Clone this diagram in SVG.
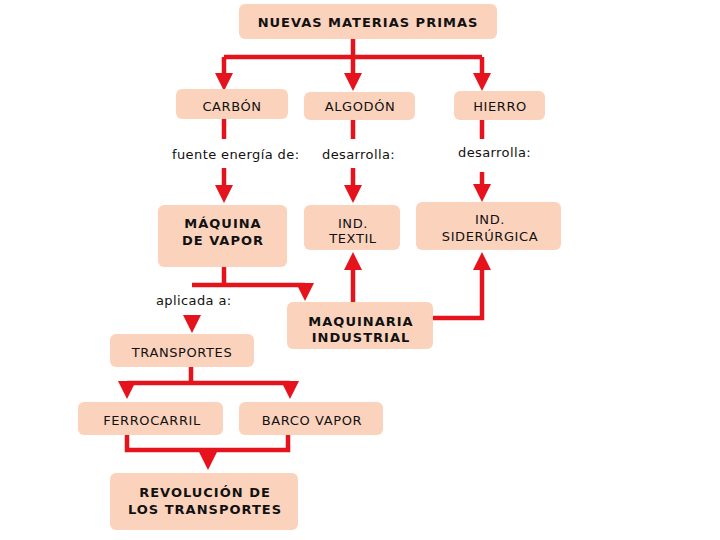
<svg xmlns="http://www.w3.org/2000/svg" xmlns:xlink="http://www.w3.org/1999/xlink" width="720" height="540" viewBox="0 0 720 540">
<style>
.box{fill:#FBD3BD}
.t{font-family:"DejaVu Sans","Verdana",sans-serif;font-size:13px;fill:#111;text-anchor:middle;letter-spacing:0.6px}
.b{font-family:"DejaVu Sans","Verdana",sans-serif;font-size:13px;font-weight:bold;fill:#111;text-anchor:middle;letter-spacing:1px}
.l{font-family:"DejaVu Sans","Verdana",sans-serif;font-size:13px;fill:#111;letter-spacing:0.4px}
.c{fill:none;stroke:#E5141C;stroke-width:4.5}
.ah{fill:#E5141C}
</style>
<defs>
<path id="down" d="M-9,0 L9,0 L0,18 Z"/>
<path id="up" d="M-9,0 L9,0 L0,-18 Z"/>
</defs>
<rect width="720" height="540" fill="#fff"/>
<g id="connectors">
<path class="c" d="M353,39 V57 M224,57 H482 M224,57 V74 M353,57 V74 M482,57 V74"/>
<path class="c" d="M224,119 V139 M353,120 V139 M482,120 V139"/>
<path class="c" d="M224,168 V186 M353,168 V186 M482,172 V186"/>
<path class="c" d="M224,267 V285 M192,285 H305"/>
<path class="c" d="M353,302 V270"/>
<path class="c" d="M433,318 H482 V270"/>
<path class="c" d="M191,367 V383 M127,383 H290"/>
<path class="c" d="M127,435 V450 H288 V435"/>
<g class="ah">
<use xlink:href="#down" x="224" y="73"/>
<use xlink:href="#down" x="353" y="73"/>
<use xlink:href="#down" x="482" y="73"/>
<use xlink:href="#down" x="224" y="185"/>
<use xlink:href="#down" x="353" y="185"/>
<use xlink:href="#down" x="482" y="184"/>
<use xlink:href="#down" x="305" y="283"/>
<use xlink:href="#down" x="192" y="315"/>
<use xlink:href="#up" x="353" y="270"/>
<use xlink:href="#up" x="482" y="270"/>
<use xlink:href="#down" x="127" y="381"/>
<use xlink:href="#down" x="290" y="381"/>
<use xlink:href="#down" x="208" y="452"/>
</g>
</g>
<g id="lbl-fuente"><text class="l" x="172" y="159">fuente energía de:</text></g>
<g id="lbl-desarrolla1"><text class="l" x="322" y="159">desarrolla:</text></g>
<g id="lbl-desarrolla2"><text class="l" x="458" y="157">desarrolla:</text></g>
<g id="lbl-aplicada"><text class="l" x="156" y="305">aplicada a:</text></g>
<g id="n-nuevas"><rect class="box" x="239" y="4" width="258" height="35" rx="6"/><text class="b" x="368" y="27">NUEVAS MATERIAS PRIMAS</text></g>
<g id="n-carbon"><rect class="box" x="176" y="89" width="112" height="30" rx="6"/><text class="t" x="232" y="111">CARBÓN</text></g>
<g id="n-algodon"><rect class="box" x="304" y="92" width="111" height="28" rx="6"/><text class="t" x="360" y="111">ALGODÓN</text></g>
<g id="n-hierro"><rect class="box" x="454" y="91" width="91" height="29" rx="6"/><text class="t" x="500" y="111">HIERRO</text></g>
<g id="n-maquina"><rect class="box" x="158" y="205" width="129" height="62" rx="6"/><text class="b" x="223" y="228">MÁQUINA</text><text class="b" x="223" y="245">DE VAPOR</text></g>
<g id="n-textil"><rect class="box" x="304" y="205" width="96" height="45" rx="6"/><text class="t" x="353" y="228">IND.</text><text class="t" x="353" y="243">TEXTIL</text></g>
<g id="n-siderurgica"><rect class="box" x="416" y="202" width="145" height="48" rx="6"/><text class="t" x="490" y="224">IND.</text><text class="t" x="490" y="241">SIDERÚRGICA</text></g>
<g id="n-maquinaria"><rect class="box" x="287" y="302" width="146" height="47" rx="6"/><text class="b" x="361" y="326">MAQUINARIA</text><text class="b" x="361" y="342">INDUSTRIAL</text></g>
<g id="n-transportes"><rect class="box" x="110" y="334" width="144" height="33" rx="6"/><text class="t" x="182" y="357">TRANSPORTES</text></g>
<g id="n-ferrocarril"><rect class="box" x="78" y="402" width="145" height="33" rx="6"/><text class="t" x="152" y="425">FERROCARRIL</text></g>
<g id="n-barco"><rect class="box" x="239" y="402" width="144" height="33" rx="6"/><text class="t" x="312" y="425">BARCO VAPOR</text></g>
<g id="n-revolucion"><rect class="box" x="110" y="473" width="188" height="57" rx="6"/><text class="b" x="205" y="497">REVOLUCIÓN DE</text><text class="b" x="205" y="514">LOS TRANSPORTES</text></g>
</svg>
